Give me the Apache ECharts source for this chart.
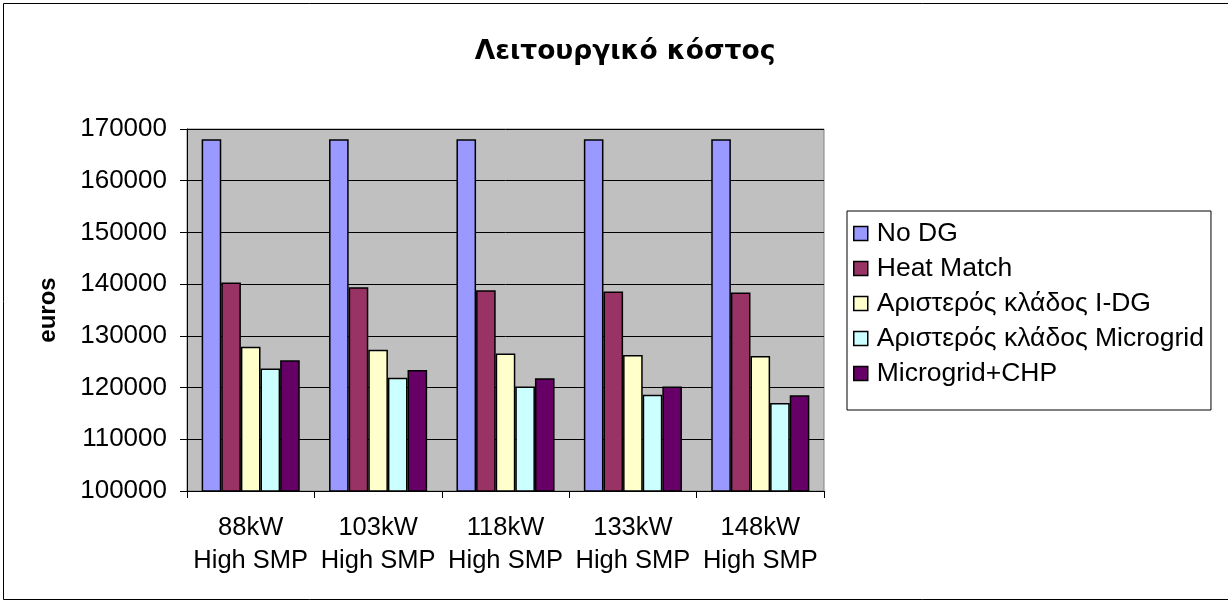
<!DOCTYPE html>
<html>
<head>
<meta charset="utf-8">
<script src="https://cdn.jsdelivr.net/npm/echarts@6/dist/echarts.min.js"></script>
<style>html,body{margin:0;padding:0;background:#fff}#c{width:1228px;height:600px}</style>
</head>
<body>
<div id="c"></div>
<script>
const categories = ['88kW\nHigh SMP', '103kW\nHigh SMP', '118kW\nHigh SMP', '133kW\nHigh SMP', '148kW\nHigh SMP'];
const seriesNames = ['No DG', 'Heat Match', 'Αριστερός κλάδος I-DG', 'Αριστερός κλάδος Microgrid', 'Microgrid+CHP'];
const noDG = [168000, 168000, 168000, 168000, 168000];
const heatMatch = [140300, 139400, 138800, 138600, 138400];
const leftIDG = [127900, 127300, 126600, 126300, 126100];
const leftMicrogrid = [123700, 121900, 120200, 118600, 117000];
const microgridCHP = [125300, 123400, 121800, 120200, 118500];
const colors = ['#9999FF', '#993366', '#FFFFCC', '#CCFFFF', '#660066'];
const values = [noDG, heatMatch, leftIDG, leftMicrogrid, microgridCHP];

const chart = echarts.init(document.getElementById('c'));
const font = 'Liberation Sans, Arial, sans-serif';
chart.setOption({
  animation: false,
  backgroundColor: '#fff',
  title: {
    text: 'Λειτουργικό κόστος',
    left: 620, top: 34, textAlign: 'center',
    textStyle: { fontFamily: 'DejaVu Sans, sans-serif', fontSize: 26.5, fontWeight: 'bold', color: '#000' }
  },
  graphic: [{
    type: 'rect', left: 1, top: 1, shape: { width: 1225, height: 596 },
    style: { fill: 'none', stroke: '#000', lineWidth: 1 }, z: 100
  }],
  legend: {
    orient: 'vertical', left: 847, top: 211,
    padding: [9, 7, 23, 6],
    borderColor: '#000', borderWidth: 1,
    itemGap: 8, itemWidth: 14, itemHeight: 14,
    icon: 'rect',
    textStyle: { fontFamily: font, fontSize: 26.5, lineHeight: 26, color: '#000', padding: [0, 0, 0, 4] },
    data: seriesNames.map((n, i) => ({ name: n, itemStyle: { borderColor: '#000', borderWidth: 1.5 } }))
  },
  grid: { left: 187, top: 129, width: 637, height: 362, show: true, backgroundColor: '#C0C0C0', borderColor: '#808080', borderWidth: 1 },
  xAxis: {
    type: 'category', data: categories,
    axisLine: { lineStyle: { color: '#000', width: 1 } },
    axisTick: { show: true, length: 7, lineStyle: { color: '#000' } },
    axisLabel: { interval: 0, hideOverlap: false, fontFamily: font, fontSize: 25.5, color: '#000', lineHeight: 33, margin: 20 }
  },
  yAxis: {
    type: 'value', min: 100000, max: 170000, interval: 10000,
    name: 'euros', nameLocation: 'middle', nameGap: 127, nameRotate: 90,
    nameTextStyle: { fontFamily: font, fontSize: 24, fontWeight: 'bold', color: '#000' },
    axisLine: { show: true, lineStyle: { color: '#000' } },
    axisTick: { show: true, length: 7, lineStyle: { color: '#000' } },
    axisLabel: { fontFamily: font, fontSize: 26, color: '#000', margin: 20, formatter: v => String(v) },
    splitLine: { show: true, lineStyle: { color: '#000', width: 1 } }
  },
  series: seriesNames.map((n, i) => ({
    name: n, type: 'bar', data: values[i],
    barGap: '0%', barCategoryGap: '23%',
    itemStyle: { color: colors[i], borderColor: '#000', borderWidth: 1.5 }
  }))
});
</script>
</body>
</html>
